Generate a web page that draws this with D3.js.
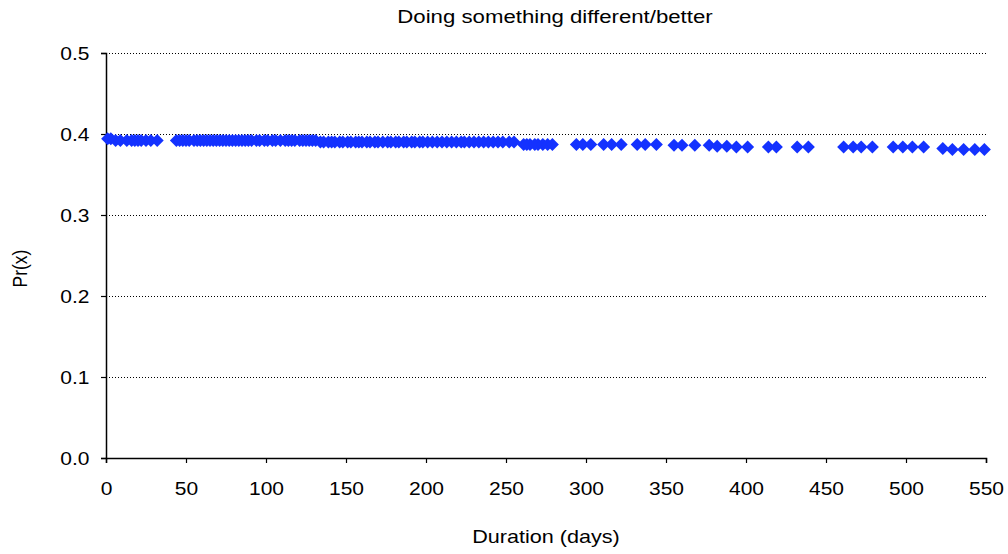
<!DOCTYPE html>
<html>
<head>
<meta charset="utf-8">
<script src="https://cdn.jsdelivr.net/npm/d3@7"></script>
<style>
  body { margin: 0; background: #fff; }
  svg { display: block; font-family: "Liberation Sans", Arial, sans-serif; }
</style>
</head>
<body>
<svg id="chart" width="1008" height="554"></svg>
<script>
// Duration (days) of each observation and its estimated probability
const durations = [
  1, 3, 6, 9, 13, 16, 18, 20, 22, 25, 28, 32,
  44, 46, 48, 50, 52, 55, 57, 59, 61, 63, 65, 67, 69, 71, 73, 75, 77, 79, 81, 83, 85, 87, 89, 91,
  94, 96, 99, 101, 104, 106, 109, 112, 114, 116, 118, 121, 123, 125, 127, 129, 131,
  134, 136, 139, 141, 143, 146, 148, 151, 153, 156, 158, 160, 163, 165, 168, 170, 173, 176, 178,
  181, 183, 186, 188, 191, 193, 196, 198, 201, 204, 207, 210, 213, 216, 219, 222, 224, 227, 230,
  233, 236, 239, 242, 245, 248, 252, 255,
  261, 263, 265, 268, 270, 273, 276, 279,
  294, 298, 303, 311, 316, 322, 332, 337, 344, 355, 360, 368,
  377, 382, 388, 394, 401, 414, 419, 432, 439,
  461, 467, 472, 479, 492, 498, 504, 511, 523, 529, 536, 543, 549
];
const probabilities = [
  0.394, 0.394, 0.392, 0.392, 0.392, 0.392, 0.392, 0.392, 0.392, 0.392, 0.392, 0.392,
  0.392, 0.392, 0.392, 0.392, 0.392, 0.392, 0.392, 0.392, 0.392, 0.392, 0.392, 0.392, 0.392, 0.392, 0.392, 0.392, 0.392, 0.392, 0.392, 0.392, 0.392, 0.392, 0.392, 0.392,
  0.392, 0.392, 0.392, 0.392, 0.392, 0.392, 0.392, 0.392, 0.392, 0.392, 0.392, 0.392, 0.392, 0.392, 0.392, 0.392, 0.392,
  0.390, 0.390, 0.390, 0.390, 0.390, 0.390, 0.390, 0.390, 0.390, 0.390, 0.390, 0.390, 0.390, 0.390, 0.390, 0.390, 0.390, 0.390, 0.390,
  0.390, 0.390, 0.390, 0.390, 0.390, 0.390, 0.390, 0.390, 0.390, 0.390, 0.390, 0.390, 0.390, 0.390, 0.390, 0.390, 0.390, 0.390, 0.390,
  0.390, 0.390, 0.390, 0.390, 0.390, 0.390, 0.390, 0.390,
  0.387, 0.387, 0.387, 0.387, 0.387, 0.387, 0.387, 0.387,
  0.387, 0.387, 0.387, 0.387, 0.387, 0.387, 0.387, 0.387, 0.387, 0.386, 0.386, 0.386,
  0.386, 0.385, 0.385, 0.384, 0.384, 0.384, 0.384, 0.384, 0.384,
  0.384, 0.384, 0.384, 0.384, 0.384, 0.384, 0.384, 0.384, 0.382, 0.381, 0.381, 0.381, 0.381
];
const xTicks = [0, 50, 100, 150, 200, 250, 300, 350, 400, 450, 500, 550];
const yTicks = [0, 0.1, 0.2, 0.3, 0.4, 0.5];

const points = durations.map((d, i) => ({ x: d, y: probabilities[i] }));

const svg = d3.select("#chart");
const margin = { left: 106, right: 22, top: 53, bottom: 96 };
const width = 1008 - margin.left - margin.right;
const height = 554 - margin.top - margin.bottom;

// the typeface is drawn slightly widened
const stretch = 1.2;
const fontFamily = "Liberation Sans, Arial, sans-serif";

const x = d3.scaleLinear().domain([0, 550]).range([0, width]);
const y = d3.scaleLinear().domain([0, 0.5]).range([height, 0]);

const g = svg.append("g").attr("transform", `translate(${margin.left},${margin.top})`);

// dotted horizontal gridlines
g.append("g")
  .selectAll("line")
  .data(yTicks.filter(t => t > 0))
  .join("line")
  .attr("x1", 0).attr("x2", width)
  .attr("y1", d => y(d) + 0.5).attr("y2", d => y(d) + 0.5)
  .attr("stroke", "#000")
  .attr("stroke-width", 1)
  .attr("stroke-dasharray", "1,2");

// y axis
const yAxis = g.append("g")
  .call(d3.axisLeft(y).tickValues(yTicks).tickFormat(d3.format(".1f")).tickSize(5));
yAxis.select(".domain").attr("stroke", "#000").attr("stroke-width", 1.5);
yAxis.selectAll(".tick line").attr("stroke", "#000").attr("stroke-width", 1.2);
yAxis.selectAll("text")
  .attr("font-size", 17.5).attr("fill", "#000").attr("font-family", fontFamily)
  .attr("x", -16.5 / stretch).attr("dy", "0.36em")
  .attr("transform", `scale(${stretch},1)`);

// x axis
const xAxis = g.append("g")
  .attr("transform", `translate(0,${height})`)
  .call(d3.axisBottom(x).tickValues(xTicks).tickFormat(d3.format("d")).tickSize(5));
xAxis.select(".domain").attr("stroke", "#000").attr("stroke-width", 1.5);
xAxis.selectAll(".tick line").attr("stroke", "#000").attr("stroke-width", 1.2);
xAxis.selectAll("text")
  .attr("font-size", 17.5).attr("fill", "#000").attr("font-family", fontFamily)
  .attr("y", 37).attr("dy", 0)
  .attr("transform", `scale(${stretch},1)`);

// diamond markers
const diamond = "M0,-6.5L6.5,0L0,6.5L-6.5,0Z";
g.append("g")
  .selectAll("path")
  .data(points)
  .join("path")
  .attr("d", diamond)
  .attr("transform", d => `translate(${x(d.x)},${y(d.y)})`)
  .attr("fill", "#1432ff");

// title and axis labels
const cx = margin.left + width / 2;
svg.append("text")
  .attr("transform", `translate(${cx + 9},23) scale(${stretch},1)`)
  .attr("text-anchor", "middle").attr("font-size", 18.5)
  .text("Doing something different/better");

svg.append("text")
  .attr("transform", `translate(${cx},543) scale(${stretch},1)`)
  .attr("text-anchor", "middle").attr("font-size", 18)
  .text("Duration (days)");

svg.append("text")
  .attr("transform", `translate(27,${margin.top + height / 2 + 13}) rotate(-90) scale(1,${stretch})`)
  .attr("text-anchor", "middle").attr("font-size", 17.5)
  .text("Pr(x)");
</script>
</body>
</html>
